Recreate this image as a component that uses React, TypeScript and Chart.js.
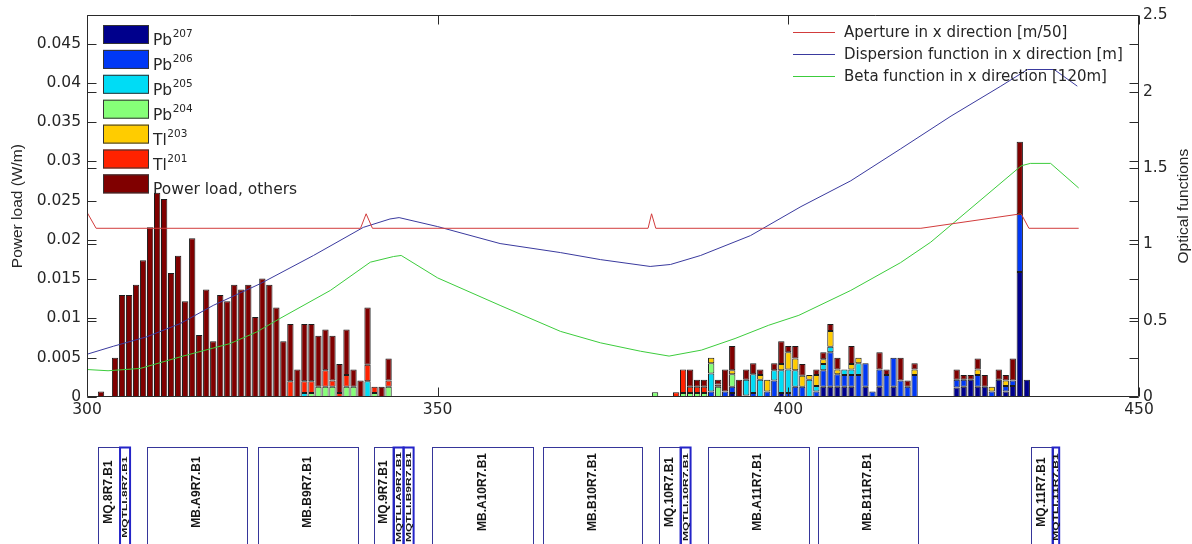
import React, { useEffect, useRef } from 'react';
import { Chart, registerables } from 'chart.js';

Chart.register(...registerables);

// ---------- bar bins (m) ----------
const binPositions = [
  302, 304, 305, 306, 307, 308, 309, 310, 311, 312,
  313, 314, 315, 316, 317, 318, 319, 320, 321, 322,
  323, 324, 325, 326, 327, 328, 329, 330, 331, 332,
  333, 334, 335, 336, 337, 338, 339, 340, 341, 342,
  343,
  381, 384, 385, 386, 387, 388, 389, 390, 391, 392,
  393, 394, 395, 396, 397, 398, 399, 400, 401, 402,
  403, 404, 405, 406, 407, 408, 409, 410, 411, 412,
  413, 414, 415, 416, 417, 418,
  424, 425, 426, 427, 428, 429, 430, 431, 432, 433, 434,
];

// ---------- power load per species (W/m) ----------
const pb207 = [
  0, 0, 0, 0, 0, 0, 0, 0, 0, 0,
  0, 0, 0, 0, 0, 0, 0, 0, 0, 0,
  0, 0, 0, 0, 0, 0, 0, 0, 0, 0,
  0, 0, 0, 0, 0, 0, 0, 0, 0, 0,
  0,
  0, 0, 0, 0, 0, 0, 0, 0, 0, 0.0005,
  0, 0, 0, 0, 0, 0, 0.0005, 0, 0, 0,
  0, 0, 0.0013, 0.0013, 0.0013, 0.0013, 0.0013, 0, 0.0013, 0,
  0.0013, 0, 0.0013, 0, 0, 0,
  0.0012, 0.0013, 0.0022, 0.0013, 0.0013, 0, 0.0022, 0.0007, 0.0014, 0.0159, 0.0022,
];
const pb206 = [
  0, 0, 0, 0, 0, 0, 0, 0, 0, 0,
  0, 0, 0, 0, 0, 0, 0, 0, 0, 0,
  0, 0, 0, 0, 0, 0, 0, 0, 0, 0,
  0, 0, 0, 0, 0, 0, 0, 0, 0, 0,
  0,
  0, 0, 0, 0, 0, 0, 0.0007, 0, 0.0007, 0.0008,
  0, 0.0002, 0.0005, 0, 0.0007, 0.0021, 0, 0.0005, 0.0013, 0.0013,
  0, 0.0007, 0.0021, 0.0044, 0.0016, 0.0015, 0.0015, 0.0028, 0.0030, 0.0007,
  0.0022, 0.0028, 0.0037, 0.0021, 0.0013, 0.0028,
  0.0010, 0.0009, 0, 0.0015, 0, 0.0007, 0, 0.0007, 0.0007, 0.0074, 0,
];
const pb205 = [
  0, 0, 0, 0, 0, 0, 0, 0, 0, 0,
  0, 0, 0, 0, 0, 0, 0, 0, 0, 0,
  0, 0, 0, 0, 0, 0, 0, 0, 0.0005, 0,
  0, 0, 0, 0, 0, 0, 0, 0.0020, 0, 0,
  0,
  0, 0, 0, 0, 0, 0, 0.0023, 0, 0, 0,
  0, 0.0020, 0.0024, 0.0022, 0, 0.0013, 0.0029, 0.0030, 0.0021, 0,
  0.0022, 0.0007, 0.0008, 0.0007, 0, 0.0007, 0.0007, 0.0015, 0, 0,
  0, 0, 0, 0, 0, 0,
  0, 0, 0, 0, 0, 0, 0, 0, 0, 0, 0,
];
const pb204 = [
  0, 0, 0, 0, 0, 0, 0, 0, 0, 0,
  0, 0, 0, 0, 0, 0, 0, 0, 0, 0,
  0, 0, 0, 0, 0, 0, 0, 0, 0, 0.0005,
  0.0013, 0.0013, 0.0013, 0, 0.0013, 0.0013, 0, 0, 0.0005, 0,
  0.0013,
  0.0006, 0, 0.0005, 0.0005, 0.0005, 0.0005, 0.0013, 0.0013, 0, 0.0016,
  0, 0, 0, 0, 0, 0, 0, 0, 0, 0,
  0, 0, 0, 0, 0, 0, 0, 0, 0, 0,
  0, 0, 0, 0, 0, 0,
  0, 0, 0, 0, 0, 0, 0, 0, 0, 0, 0,
];
const tl203 = [
  0, 0, 0, 0, 0, 0, 0, 0, 0, 0,
  0, 0, 0, 0, 0, 0, 0, 0, 0, 0,
  0, 0, 0, 0, 0, 0, 0, 0, 0, 0,
  0, 0, 0, 0, 0, 0, 0, 0, 0, 0,
  0,
  0, 0, 0, 0, 0, 0, 0.0007, 0, 0, 0.0005,
  0, 0, 0, 0.0006, 0.0015, 0, 0.0008, 0.0022, 0.0015, 0.0014,
  0.0006, 0.0014, 0.0006, 0.0020, 0.0006, 0, 0.0007, 0.0007, 0, 0,
  0, 0, 0, 0, 0, 0.0007,
  0, 0, 0, 0.0007, 0, 0.0006, 0, 0.0007, 0, 0, 0,
];
const tl201 = [
  0, 0, 0, 0, 0, 0, 0, 0, 0, 0,
  0, 0, 0, 0, 0, 0, 0, 0, 0, 0,
  0, 0, 0, 0, 0, 0, 0.0020, 0, 0.0015, 0.0015,
  0, 0.0021, 0.0008, 0.0005, 0.0015, 0, 0, 0.0021, 0.0008, 0,
  0.0008,
  0, 0.0006, 0.0030, 0.0008, 0.0008, 0.0008, 0, 0.0003, 0, 0,
  0, 0, 0, 0, 0, 0, 0, 0, 0, 0,
  0, 0, 0, 0, 0, 0, 0, 0, 0, 0,
  0, 0, 0, 0, 0, 0,
  0, 0, 0, 0, 0, 0, 0, 0, 0, 0, 0,
];
const othersLoad = [
  0.0007, 0.0050, 0.0130, 0.0130, 0.0143, 0.0174, 0.0216, 0.0260, 0.0252, 0.0158,
  0.0180, 0.0122, 0.0202, 0.0079, 0.0137, 0.0071, 0.0130, 0.0122, 0.0143, 0.0137,
  0.0143, 0.0102, 0.0151, 0.0143, 0.0114, 0.0071, 0.0073, 0.0035, 0.0073, 0.0073,
  0.0065, 0.0052, 0.0057, 0.0037, 0.0058, 0.0022, 0.0021, 0.0073, 0, 0.0013,
  0.0028,
  0, 0, 0, 0.0022, 0.0009, 0.0009, 0, 0.0006, 0.0028, 0.0031,
  0.0022, 0.0013, 0.0014, 0.0007, 0, 0.0009, 0.0029, 0.0008, 0.0016, 0.0015,
  0, 0.0007, 0.0009, 0.0009, 0.0015, 0, 0.0023, 0, 0, 0,
  0.0022, 0.0007, 0, 0.0029, 0.0008, 0.0008,
  0.0013, 0.0006, 0.0006, 0.0014, 0.0015, 0, 0.0013, 0.0007, 0.0028, 0.0092, 0,
];

const seriesLabels = ['Pb207', 'Pb206', 'Pb205', 'Pb204', 'Tl203', 'Tl201', 'Power load, others'];
const legendBase = ['Pb', 'Pb', 'Pb', 'Pb', 'Tl', 'Tl', 'Power load, others'];
const legendSup = ['207', '206', '205', '204', '203', '201', ''];
const seriesColors = ['#00008c', '#0038f5', '#00dcf5', '#86ff78', '#ffcc00', '#ff2200', '#800000'];

// ---------- optical functions (right axis) ----------
const apertureX = [300, 301.3, 339.0, 339.8, 340.7, 380.0, 380.5, 381.1, 418.9, 433.2, 434.3, 441.4];
const apertureY = [1.21, 1.105, 1.105, 1.2, 1.105, 1.105, 1.2, 1.105, 1.105, 1.2, 1.105, 1.105];

const dispersionX = [300, 303.8, 308.5, 313.3, 318, 324.7, 332.3, 339.4, 343.2, 344.5, 350, 358.9, 367.5, 373.2, 380.3, 383.2, 387.5, 394.6, 401.8, 408.9, 416, 423.2, 430.3, 434.1, 437.9, 441.2];
const dispersionY = [0.28, 0.333, 0.394, 0.481, 0.6, 0.742, 0.927, 1.111, 1.166, 1.175, 1.116, 1.005, 0.946, 0.9, 0.855, 0.868, 0.927, 1.057, 1.247, 1.416, 1.625, 1.84, 2.036, 2.145, 2.145, 2.036];

const betaX = [300, 303, 307.6, 313.3, 320.4, 324.2, 327.5, 334.7, 340.4, 343.7, 344.8, 350, 358.9, 367.5, 373.2, 378.9, 383, 387.6, 392.4, 397.2, 401.5, 408.9, 416, 420.3, 433.2, 434.5, 437.4, 441.4];
const betaY = [0.18, 0.172, 0.187, 0.263, 0.35, 0.426, 0.514, 0.698, 0.883, 0.92, 0.927, 0.78, 0.6, 0.43, 0.355, 0.3, 0.268, 0.307, 0.383, 0.47, 0.535, 0.698, 0.88, 1.014, 1.514, 1.53, 1.53, 1.369];

const lineLabels = ['Aperture in x direction [m/50]', 'Dispersion function in x direction [m]', 'Beta function in x direction [120m]'];
const lineColors = ['#d23c3c', '#3a3a9e', '#3ccc3c'];

// ---------- axes ----------
const xTicks = [300, 350, 400, 450];
const xTickLabels = ['300', '350', '400', '450'];
const yTicks = [0, 0.005, 0.01, 0.015, 0.02, 0.025, 0.03, 0.035, 0.04, 0.045];
const yTickLabels = ['0', '0.005', '0.01', '0.015', '0.02', '0.025', '0.03', '0.035', '0.04', '0.045'];
const y2Ticks = [0, 0.5, 1, 1.5, 2, 2.5];
const y2TickLabels = ['0', '0.5', '1', '1.5', '2', '2.5'];
const yTitle = 'Power load (W/m)';
const y2Title = 'Optical functions';

// ---------- lattice elements (m) ----------
const latticeNames = ['MQ.8R7.B1', 'MQTLI.8R7.B1', 'MB.A9R7.B1', 'MB.B9R7.B1', 'MQ.9R7.B1', 'MQTLI.A9R7.B1', 'MQTLI.B9R7.B1', 'MB.A10R7.B1', 'MB.B10R7.B1', 'MQ.10R7.B1', 'MQTLI.10R7.B1', 'MB.A11R7.B1', 'MB.B11R7.B1', 'MQ.11R7.B1', 'MQTLI.11R7.B1'];
const latticeStart = [301.56, 304.71, 308.56, 324.33, 340.86, 343.71, 345.14, 349.24, 365.0, 381.53, 384.63, 388.48, 404.18, 434.58, 437.68];
const latticeEnd = [304.71, 306.14, 322.83, 338.6, 343.71, 345.14, 346.57, 363.6, 379.1, 384.63, 386.06, 402.9, 418.45, 437.68, 438.62];
const latticeKinds = ['MQ', 'MQTLI', 'MB', 'MB', 'MQ', 'MQTLI', 'MQTLI', 'MB', 'MB', 'MQ', 'MQTLI', 'MB', 'MB', 'MQ', 'MQTLI'];

const H_FONT = "'DejaVu Sans', 'Liberation Sans', sans-serif";
const V_FONT = "'Liberation Sans', Arial, sans-serif";
const TEXT = '#262626';

const decorPlugin = {
  id: 'decor',
  afterDatasetsDraw(chart: any) {
    const { ctx, chartArea: a, scales } = chart;
    const L = Math.round(a.left) + 0.5;
    const R = Math.round(a.right) - 0.5;
    const T = Math.round(a.top) + 0.5;
    const B = Math.round(a.bottom) - 0.5;
    ctx.save();
    ctx.strokeStyle = '#2a2a2a';
    ctx.lineWidth = 1;
    ctx.beginPath();
    ctx.rect(L, T, R - L, B - T);
    const tl = 9;
    const yPx = [
      ...yTicks.map((v) => scales.y.getPixelForValue(v)),
      ...y2Ticks.map((v) => scales.y2.getPixelForValue(v)),
    ];
    for (const p of yPx) {
      const yy = Math.round(p) + 0.5;
      ctx.moveTo(L, yy); ctx.lineTo(L + tl, yy);
      ctx.moveTo(R - tl, yy); ctx.lineTo(R, yy);
    }
    for (const v of xTicks) {
      const xx = Math.round(scales.x.getPixelForValue(v)) + 0.5;
      ctx.moveTo(xx, B); ctx.lineTo(xx, B - tl);
      ctx.moveTo(xx, T); ctx.lineTo(xx, T + tl);
    }
    ctx.stroke();
    ctx.restore();
  },
  afterDraw(chart: any) {
    const { ctx, chartArea: a, scales } = chart;
    ctx.save();
    // left legend (bars)
    for (let i = 0; i < legendBase.length; i++) {
      const top = 25 + i * 24.9;
      ctx.fillStyle = seriesColors[i];
      ctx.fillRect(103, top, 46, 19);
      ctx.strokeStyle = '#333';
      ctx.lineWidth = 1;
      ctx.strokeRect(103.5, top + 0.5, 45, 18);
      ctx.fillStyle = TEXT;
      ctx.textAlign = 'left';
      ctx.textBaseline = 'alphabetic';
      ctx.font = `15.5px ${H_FONT}`;
      const base = top + 20;
      ctx.fillText(legendBase[i], 153, base);
      if (legendSup[i]) {
        const w = ctx.measureText(legendBase[i]).width;
        ctx.font = `10.5px ${H_FONT}`;
        ctx.fillText(legendSup[i], 153 + w + 0.5, base - 8);
      }
    }
    // right legend (lines)
    ctx.font = `15px ${H_FONT}`;
    ctx.textBaseline = 'middle';
    for (let i = 0; i < lineLabels.length; i++) {
      const y = 32 + i * 22;
      ctx.strokeStyle = lineColors[i];
      ctx.lineWidth = 1;
      ctx.beginPath();
      ctx.moveTo(793, y + 0.5);
      ctx.lineTo(835, y + 0.5);
      ctx.stroke();
      ctx.fillStyle = TEXT;
      ctx.fillText(lineLabels[i], 844, y + 1);
    }
    // axis titles
    const midY = (a.top + a.bottom) / 2;
    ctx.font = `15.5px ${V_FONT}`;
    ctx.textAlign = 'center';
    ctx.textBaseline = 'middle';
    ctx.fillStyle = TEXT;
    ctx.save();
    ctx.translate(18, midY);
    ctx.rotate(-Math.PI / 2);
    ctx.fillText(yTitle, 0, 0);
    ctx.restore();
    ctx.save();
    ctx.translate(1184, midY);
    ctx.rotate(-Math.PI / 2);
    ctx.fillText(y2Title, 0, 0);
    ctx.restore();

    // lattice layout
    const boxTop = 447;
    const drawOrder = [...latticeNames.keys()].sort((p, q) => (latticeKinds[p] === 'MQTLI' ? 1 : 0) - (latticeKinds[q] === 'MQTLI' ? 1 : 0));
    for (const i of drawOrder) {
      const x0 = scales.x.getPixelForValue(latticeStart[i]);
      const x1 = scales.x.getPixelForValue(latticeEnd[i]);
      const thin = latticeKinds[i] === 'MQTLI';
      ctx.strokeStyle = thin ? '#2424c8' : '#36369a';
      ctx.lineWidth = thin ? 2 : 1;
      const rx = thin ? x0 : Math.round(x0) + 0.5;
      const rw = thin ? x1 - x0 : Math.round(x1) - Math.round(x0);
      ctx.strokeRect(rx, boxTop + 0.5, rw, 140);
    }
    for (let i = 0; i < latticeNames.length; i++) {
      const x0 = scales.x.getPixelForValue(latticeStart[i]);
      const x1 = scales.x.getPixelForValue(latticeEnd[i]);
      const thin = latticeKinds[i] === 'MQTLI';
      ctx.save();
      ctx.translate((x0 + x1) / 2, thin ? 497 : 492);
      ctx.rotate(-Math.PI / 2);
      ctx.fillStyle = '#151515';
      ctx.textAlign = 'center';
      ctx.textBaseline = 'middle';
      if (thin) {
        ctx.scale(1, 0.62);
        ctx.font = `bold 12px ${V_FONT}`;
      } else {
        ctx.font = `bold 12px ${V_FONT}`;
      }
      ctx.fillText(latticeNames[i], 0, 0);
      ctx.restore();
    }
    ctx.restore();
  },
};

export default function App() {
  const ref = useRef<HTMLCanvasElement>(null);
  useEffect(() => {
    const canvas = ref.current;
    if (!canvas) return;
    const seriesData = [pb207, pb206, pb205, pb204, tl203, tl201, othersLoad];
    const barSets = seriesData.map((vals, k) => ({
      type: 'bar' as const,
      label: seriesLabels[k],
      data: binPositions.map((x, i) => ({ x, y: vals[i] > 0 ? vals[i] : null })),
      backgroundColor: seriesColors[k],
      borderColor: '#1c1c1c',
      borderWidth: 1,
      borderSkipped: false,
      barPercentage: 0.9,
      categoryPercentage: 1,
      stack: 'load',
      yAxisID: 'y',
      order: 2,
    }));
    const lineXs = [apertureX, dispersionX, betaX];
    const lineYs = [apertureY, dispersionY, betaY];
    const lineSets = lineLabels.map((label, k) => ({
      type: 'line' as const,
      label,
      data: lineXs[k].map((x, i) => ({ x, y: lineYs[k][i] })),
      borderColor: lineColors[k],
      backgroundColor: lineColors[k],
      borderWidth: 1,
      pointRadius: 0,
      tension: 0,
      fill: false,
      yAxisID: 'y2',
      order: 1,
    }));

    const tickFont = { family: H_FONT, size: 15.5 };
    const chart = new Chart(canvas, {
      type: 'bar',
      data: { datasets: [...lineSets, ...barSets] as any },
      options: {
        animation: false,
        responsive: false,
        devicePixelRatio: 1,
        layout: { padding: { top: 14, left: 0, right: 0, bottom: 0 } },
        plugins: { legend: { display: false }, tooltip: { enabled: false } },
        scales: {
          x: {
            type: 'linear',
            min: 300,
            max: 450,
            offset: false,
            grid: { display: false, drawTicks: false },
            border: { display: false },
            afterBuildTicks: (s: any) => { s.ticks = xTicks.map((v) => ({ value: v })); },
            afterFit: (s: any) => { s.height = 147; },
            ticks: {
              color: TEXT,
              font: tickFont,
              padding: 4,
              maxRotation: 0,
              autoSkip: false,
              callback: (v: any) => xTickLabels[xTicks.indexOf(Number(v))] ?? '',
            },
          },
          y: {
            type: 'linear',
            position: 'left',
            stacked: true,
            min: 0,
            max: 0.0486,
            grid: { display: false, drawTicks: false },
            border: { display: false },
            afterBuildTicks: (s: any) => { s.ticks = yTicks.map((v) => ({ value: v })); },
            afterFit: (s: any) => { s.width = 87; },
            ticks: {
              color: TEXT,
              font: tickFont,
              padding: 6,
              autoSkip: false,
              callback: (v: any) => {
                const idx = yTicks.findIndex((t) => Math.abs(t - Number(v)) < 1e-9);
                return idx >= 0 ? yTickLabels[idx] : '';
              },
            },
          },
          y2: {
            type: 'linear',
            position: 'right',
            min: 0,
            max: 2.5,
            grid: { display: false, drawTicks: false },
            border: { display: false },
            afterBuildTicks: (s: any) => { s.ticks = y2Ticks.map((v) => ({ value: v })); },
            afterFit: (s: any) => { s.width = 53; },
            ticks: {
              color: TEXT,
              font: tickFont,
              padding: 4,
              autoSkip: false,
              callback: (v: any) => {
                const idx = y2Ticks.findIndex((t) => Math.abs(t - Number(v)) < 1e-9);
                return idx >= 0 ? y2TickLabels[idx] : '';
              },
            },
          },
        },
      } as any,
      plugins: [decorPlugin],
    });
    return () => chart.destroy();
  }, []);

  return (
    <div style={{ position: 'fixed', left: 0, top: 0, width: 1192, height: 544, background: '#fff' }}>
      <canvas ref={ref} width={1192} height={544} style={{ display: 'block', width: 1192, height: 544 }} />
    </div>
  );
}
